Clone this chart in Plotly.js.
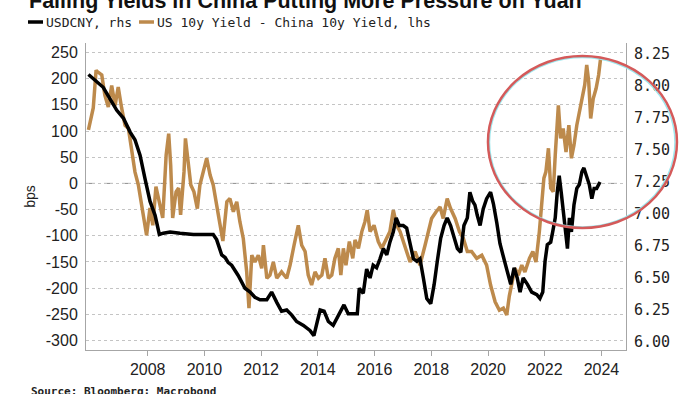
<!DOCTYPE html>
<html>
<head>
<meta charset="utf-8">
<script src="https://cdn.plot.ly/plotly-3.0.1.min.js"></script>
<style>html,body{margin:0;padding:0;background:#fff;}#chart{width:700px;height:394px;}</style>
</head>
<body>
<div id="chart"></div>
<script>
// US 10y - China 10y yield spread (bps, left axis), x = decimal year
const spreadYears = [2005.91, 2006.08, 2006.18, 2006.21, 2006.38, 2006.49, 2006.61, 2006.73, 2006.85, 2006.96,
  2007.08, 2007.20, 2007.32, 2007.44, 2007.55, 2007.67, 2007.79, 2007.90, 2007.96, 2008.08,
  2008.18, 2008.29, 2008.41, 2008.53, 2008.65, 2008.74, 2008.81, 2008.88, 2009.00, 2009.09,
  2009.16, 2009.28, 2009.33, 2009.40, 2009.52, 2009.63, 2009.75, 2009.84, 2009.96, 2010.08,
  2010.20, 2010.31, 2010.43, 2010.55, 2010.65, 2010.79, 2010.90, 2011.02, 2011.14, 2011.25,
  2011.37, 2011.49, 2011.57, 2011.67, 2011.78, 2011.90, 2012.02, 2012.08, 2012.20, 2012.31,
  2012.43, 2012.55, 2012.72, 2012.90, 2013.02, 2013.16, 2013.31, 2013.43, 2013.55, 2013.66,
  2013.78, 2013.90, 2014.02, 2014.14, 2014.25, 2014.37, 2014.49, 2014.60, 2014.72, 2014.81,
  2014.90, 2014.99, 2015.11, 2015.23, 2015.31, 2015.43, 2015.55, 2015.66, 2015.74, 2015.84,
  2015.98, 2016.13, 2016.25, 2016.37, 2016.54, 2016.66, 2016.78, 2016.90, 2017.07, 2017.25,
  2017.43, 2017.60, 2017.78, 2017.89, 2018.01, 2018.17, 2018.31, 2018.42, 2018.56, 2018.68,
  2018.84, 2018.99, 2019.13, 2019.27, 2019.42, 2019.60, 2019.78, 2019.95, 2020.09, 2020.25,
  2020.40, 2020.54, 2020.66, 2020.75, 2020.83, 2020.95, 2021.07, 2021.19, 2021.30, 2021.46,
  2021.58, 2021.69, 2021.81, 2021.89, 2021.97, 2022.04, 2022.13, 2022.21, 2022.30, 2022.37,
  2022.48, 2022.56, 2022.65, 2022.75, 2022.85, 2022.94, 2023.03, 2023.13, 2023.22, 2023.31,
  2023.41, 2023.48, 2023.55, 2023.62, 2023.71, 2023.81, 2023.90, 2023.97];
const spreadBps = [102, 144, 216, 214, 207, 168, 146, 187, 149, 184,
  144, 111, 105, 60, 22, -3, -47, -80, -99, -47,
  -80, -6, -35, -66, 54, 95, 35, -66, -16, -9,
  -60, 22, 86, 48, -3, -16, -48, -3, 22, 48,
  16, -3, -41, -80, -110, -35, -29, -54, -35, -73,
  -105, -169, -238, -137, -150, -137, -162, -118, -181, -175,
  -150, -181, -169, -181, -156, -118, -80, -118, -130, -175,
  -194, -169, -181, -175, -143, -181, -175, -143, -124, -175,
  -124, -156, -111, -143, -108, -124, -92, -73, -51, -92,
  -80, -111, -124, -111, -92, -51, -80, -92, -118, -150,
  -130, -156, -118, -92, -67, -54, -45, -67, -29, -48,
  -67, -92, -105, -130, -130, -143, -137, -156, -194, -226,
  -242, -238, -251, -215, -194, -162, -175, -156, -169, -143,
  -130, -150, -92, -41, 10, 22, 67, -9, -16, 54,
  149, 86, 105, 60, 111, 48, 73, 111, 137, 162,
  188, 226, 194, 124, 162, 181, 207, 239];

// USDCNY (right axis)
const usdYears = [2005.91, 2006.20, 2006.43, 2006.67, 2006.91, 2007.14, 2007.38, 2007.55, 2007.73, 2007.90,
  2008.08, 2008.26, 2008.41, 2008.55, 2008.79, 2009.14, 2009.61, 2010.08, 2010.31, 2010.43,
  2010.61, 2010.73, 2010.84, 2010.96, 2011.19, 2011.43, 2011.61, 2011.78, 2011.96, 2012.20,
  2012.37, 2012.55, 2012.72, 2012.90, 2013.08, 2013.25, 2013.49, 2013.72, 2013.86, 2013.98,
  2014.08, 2014.22, 2014.37, 2014.54, 2014.72, 2014.92, 2015.07, 2015.25, 2015.39, 2015.46,
  2015.60, 2015.72, 2015.84, 2015.95, 2016.07, 2016.19, 2016.31, 2016.43, 2016.54, 2016.66,
  2016.76, 2016.87, 2017.01, 2017.13, 2017.25, 2017.37, 2017.49, 2017.60, 2017.72, 2017.84,
  2017.98, 2018.10, 2018.21, 2018.33, 2018.45, 2018.56, 2018.68, 2018.80, 2018.92, 2019.04,
  2019.15, 2019.27, 2019.36, 2019.46, 2019.54, 2019.62, 2019.72, 2019.83, 2019.95, 2020.09,
  2020.19, 2020.31, 2020.42, 2020.56, 2020.66, 2020.80, 2020.92, 2021.03, 2021.13, 2021.24,
  2021.39, 2021.54, 2021.72, 2021.83, 2021.93, 2022.01, 2022.09, 2022.21, 2022.28, 2022.37,
  2022.44, 2022.51, 2022.58, 2022.65, 2022.72, 2022.80, 2022.87, 2022.94, 2023.03, 2023.13,
  2023.22, 2023.31, 2023.38, 2023.48, 2023.57, 2023.66, 2023.74, 2023.83, 2023.95];
const usdcny = [8.09, 8.03, 7.99, 7.90, 7.81, 7.75, 7.64, 7.58, 7.46, 7.28,
  7.10, 6.99, 6.84, 6.85, 6.86, 6.85, 6.84, 6.84, 6.84, 6.80,
  6.68, 6.66, 6.62, 6.60, 6.52, 6.42, 6.39, 6.35, 6.33, 6.33,
  6.39, 6.31, 6.24, 6.25, 6.21, 6.16, 6.13, 6.09, 6.05, 6.16,
  6.25, 6.24, 6.16, 6.13, 6.21, 6.29, 6.22, 6.22, 6.22, 6.42,
  6.38, 6.57, 6.50, 6.60, 6.58, 6.65, 6.73, 6.68, 6.78, 6.86,
  6.97, 6.91, 6.91, 6.89, 6.76, 6.65, 6.63, 6.65, 6.50, 6.34,
  6.30, 6.45, 6.63, 6.81, 6.91, 6.97, 6.91, 6.81, 6.73, 6.70,
  6.91, 6.97, 7.17, 7.10, 7.07, 6.99, 6.91, 7.04, 7.12, 7.17,
  7.08, 6.93, 6.77, 6.65, 6.56, 6.45, 6.58, 6.50, 6.39, 6.50,
  6.45, 6.39, 6.37, 6.34, 6.39, 6.63, 6.76, 6.78, 6.86, 6.97,
  7.17, 7.30, 7.17, 7.02, 6.86, 6.73, 6.97, 6.86, 7.07, 7.20,
  7.23, 7.33, 7.36, 7.30, 7.23, 7.12, 7.20, 7.20, 7.25];

const xTickYears = [2008, 2010, 2012, 2014, 2016, 2018, 2020, 2022, 2024];
const leftTicks = [-300, -250, -200, -150, -100, -50, 0, 50, 100, 150, 200, 250];
const rightTicks = [6.00, 6.25, 6.50, 6.75, 7.00, 7.25, 7.50, 7.75, 8.00, 8.25];

const titleText = "Falling Yields in China Putting More Pressure on Yuan";
const seriesNames = ["USDCNY, rhs", "US 10y Yield - China 10y Yield, lhs"];
const sourceText = "Source: Bloomberg; Macrobond";

const TAN = "#bd8a4c";
const AXIS = "#a6a6a6";
const TXT = "#222222";
const sans = "Liberation Sans, Arial, sans-serif";
const mono = "DejaVu Sans Mono, monospace";

const traces = [
  {x: spreadYears, y: spreadBps, type: "scatter", mode: "lines", name: seriesNames[1],
   line: {color: TAN, width: 3.5}, yaxis: "y", showlegend: false},
  {x: usdYears, y: usdcny, type: "scatter", mode: "lines", name: seriesNames[0],
   line: {color: "#000000", width: 3.5}, yaxis: "y2", showlegend: false}
];

const layout = {
  width: 700, height: 394,
  margin: {l: 86, r: 74, t: 43, b: 44},
  paper_bgcolor: "#ffffff", plot_bgcolor: "#ffffff",
  showlegend: false,
  xaxis: {
    type: "linear", range: [2005.824, 2024.865],
    tickvals: xTickYears, ticktext: xTickYears.map(String),
    showgrid: false, zeroline: false,
    showline: true, linecolor: AXIS, linewidth: 1,
    ticks: "outside", ticklen: 5, tickcolor: AXIS,
    tickfont: {family: sans, size: 16, color: TXT}
  },
  yaxis: {
    range: [-318, 268],
    tickvals: leftTicks, ticktext: leftTicks.map(String),
    showgrid: true, gridcolor: "#c4c4c4", griddash: "dot", gridwidth: 1,
    zeroline: false, showline: true, linecolor: AXIS, linewidth: 1,
    ticks: "", ticklabelstandoff: 4,
    tickfont: {family: sans, size: 16, color: TXT},
    title: {text: "bps", font: {family: sans, size: 14, color: TXT}, standoff: 6}
  },
  yaxis2: {
    overlaying: "y", side: "right",
    range: [5.9375, 8.336],
    tickvals: rightTicks, ticktext: rightTicks.map(v => v.toFixed(2)),
    showgrid: false, zeroline: false,
    showline: true, linecolor: AXIS, linewidth: 1,
    ticks: "", ticklabelstandoff: 4,
    tickfont: {family: mono, size: 15, color: TXT}
  },
  shapes: [
    {type: "line", xref: "paper", yref: "y", x0: 0, x1: 1, y0: 0, y1: 0,
     line: {color: "#8c8c8c", width: 1, dash: "dash"}, layer: "below"},
    // legend swatches
    {type: "line", xref: "paper", yref: "paper", x0: -0.1074, x1: -0.0796, y0: 1.0684, y1: 1.0684,
     line: {color: "#000000", width: 3.5}},
    {type: "line", xref: "paper", yref: "paper", x0: 0.0981, x1: 0.1259, y0: 1.0684, y1: 1.0684,
     line: {color: TAN, width: 3.5}},
    // highlight circle (thin cyan fringe + red outline)
    {type: "circle", xref: "paper", yref: "paper", x0: 0.7472, x1: 1.0907, y0: 0.4007, y1: 0.9528,
     line: {color: "#9ce8ee", width: 1.5}},
    {type: "circle", xref: "paper", yref: "paper", x0: 0.7444, x1: 1.0944, y0: 0.3974, y1: 0.9577,
     line: {color: "#d45a5a", width: 2.5}}
  ],
  annotations: [
    {text: "<b>" + titleText + "</b>", xref: "paper", yref: "paper", x: -0.1093, y: 1.1352,
     xanchor: "left", yanchor: "middle", showarrow: false,
     font: {family: sans, size: 21.5, color: "#111111"}},
    {text: seriesNames[0], xref: "paper", yref: "paper", x: -0.0778, y: 1.0684,
     xanchor: "left", yanchor: "middle", showarrow: false,
     font: {family: mono, size: 13, color: TXT}},
    {text: seriesNames[1], xref: "paper", yref: "paper", x: 0.1278, y: 1.0684,
     xanchor: "left", yanchor: "middle", showarrow: false,
     font: {family: mono, size: 13, color: TXT}},
    {text: "<b>" + sourceText + "</b>", xref: "paper", yref: "paper", x: -0.1056, y: -0.1368,
     xanchor: "left", yanchor: "middle", showarrow: false,
     font: {family: mono, size: 11, color: TXT}}
  ]
};

Plotly.newPlot("chart", traces, layout, {staticPlot: true, displayModeBar: false});
</script>
</body>
</html>
